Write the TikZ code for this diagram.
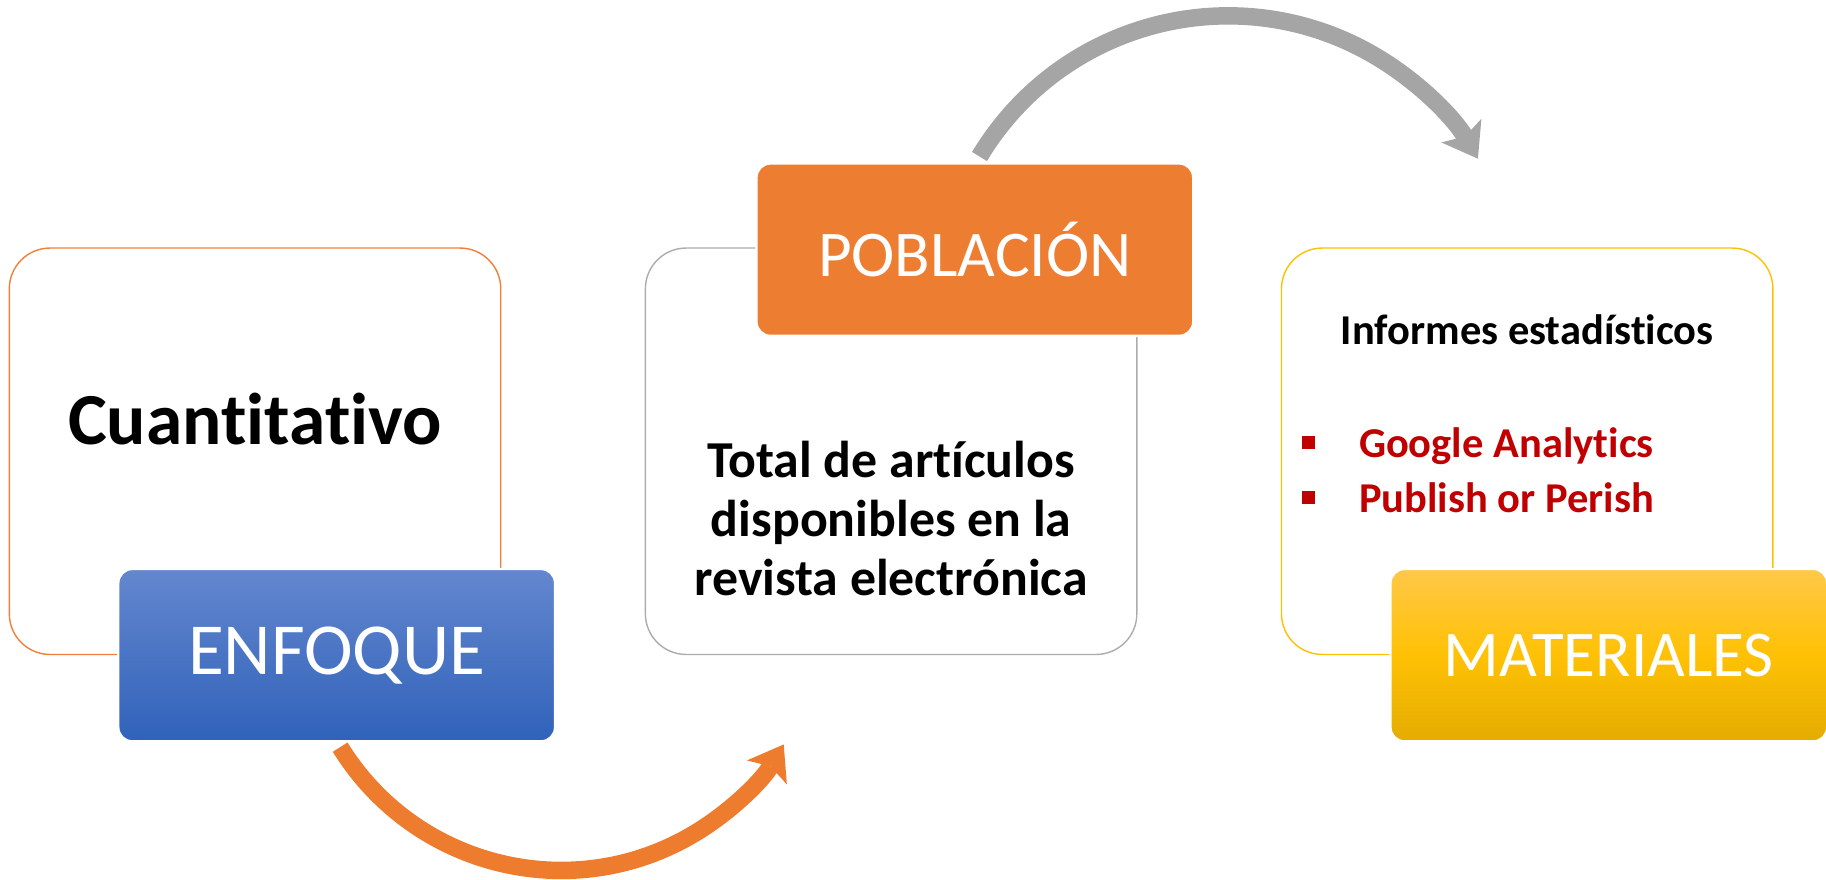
\documentclass[tikz,border=0pt]{standalone}
\usepackage{fontspec}
\setmainfont{Carlito}[Ligatures=NoCommon]
\usetikzlibrary{arrows.meta,positioning}
\definecolor{panelOrange}{RGB}{240,128,56}
\definecolor{panelGray}{RGB}{172,172,172}
\definecolor{panelGold}{RGB}{255,192,0}
\definecolor{pobFill}{RGB}{237,125,49}
\definecolor{enfTop}{RGB}{100,135,206}
\definecolor{enfBottom}{RGB}{48,98,186}
\definecolor{matTop}{RGB}{255,200,72}
\definecolor{matMid}{RGB}{255,193,5}
\definecolor{matBottom}{RGB}{228,172,0}
\definecolor{itemRed}{RGB}{192,0,0}
\definecolor{arrowOrange}{RGB}{238,124,46}
\definecolor{arrowGray}{RGB}{165,165,165}

\begin{document}
\begin{tikzpicture}[x=1pt,y=1pt,
  panel/.style={draw,line width=1.2pt,rounded corners=35pt,minimum width=422pt,minimum height=349pt,inner sep=0pt},
  tag/.style={draw=white,line width=2pt,rounded corners=12pt,minimum width=375pt,minimum height=148pt,inner sep=0pt,text=white,font=\fontsize{56}{67}\selectfont},
  bigtext/.style={inner sep=0pt,font=\bfseries\fontsize{63}{76}\selectfont},
  midtext/.style={inner sep=0pt,align=center,font=\bfseries\fontsize{44.5}{50.5}\selectfont},
  smalltext/.style={inner sep=0pt,font=\bfseries\fontsize{36.5}{44}\selectfont},
  bulletsq/.style={fill=itemRed,minimum size=11pt,inner sep=0pt},
  bend arrow/.style={line width=15pt,-{Stealth[length=28pt,width=40pt,inset=6pt,line width=0pt]}}]

\useasboundingbox (0,0) rectangle (1568,755);

% the three panels
\node[panel,draw=panelOrange] (cuanti) at (219,367.5) {};
\node[panel,draw=panelGray,right=123pt of cuanti] (total) {};
\node[panel,draw=panelGold,right=123pt of total] (mater) {};

% panel texts
\node[bigtext,anchor=base] (cuanti-txt) at ([yshift=5.5pt]cuanti.center) {Cuantitativo};
\node[midtext] (total-txt) at ([yshift=-58pt]total.center) {Total de artículos\\disponibles en la\\revista electrónica};
\node[smalltext,anchor=base] (informes) at ([yshift=91.5pt]mater.center) {Informes estadísticos};
\node[smalltext,text=itemRed,anchor=base west] (google) at ([shift={(67pt,-5.5pt)}]mater.west) {Google Analytics};
\node[smalltext,text=itemRed,anchor=base west] (publish) at ([shift={(67pt,-52.5pt)}]mater.west) {Publish or Perish};
\node[bulletsq] (dot-google) at ([shift={(-43pt,13pt)}]google.base west) {};
\node[bulletsq] (dot-publish) at ([shift={(-43pt,13pt)}]publish.base west) {};

% tags
\node[tag,top color=enfTop,bottom color=enfBottom,anchor=north east,font=\fontsize{63}{75}\selectfont] (enfoque) at ([shift={(47pt,75pt)}]cuanti.south east) {ENFOQUE};
\node[tag,fill=pobFill,anchor=north west] (poblacion) at ([shift={(95pt,73pt)}]total.north west) {POBLACIÓN};
\node[tag,top color=matTop,bottom color=matBottom,middle color=matMid,anchor=north east] (materiales) at ([shift={(47pt,75pt)}]mater.south east) {MATERIALES};

% curved arrows
\coordinate (enf-out) at ([shift={(3pt,-4pt)}]enfoque.south);
\coordinate (pob-out) at ([shift={(4pt,5pt)}]poblacion.north);
\draw[bend arrow,arrowOrange] (enf-out) arc[start angle=211.7,end angle=329,radius=223];
\draw[bend arrow,arrowGray] (pob-out) arc[start angle=149,end angle=30.5,radius=249];

\end{tikzpicture}
\end{document}
